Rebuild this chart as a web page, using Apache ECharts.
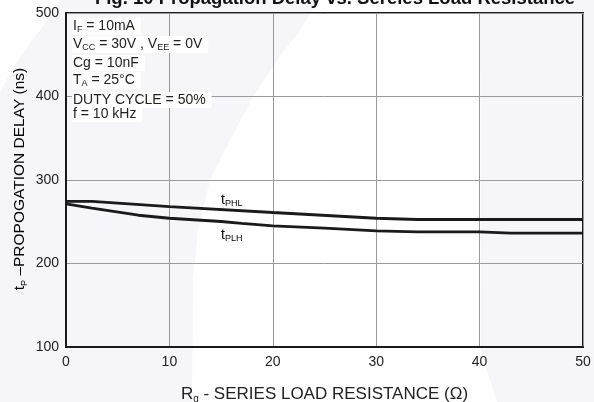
<!DOCTYPE html>
<html>
<head>
<meta charset="utf-8">
<script src="https://cdn.jsdelivr.net/npm/echarts@6/dist/echarts.min.js"></script>
<style>html,body{margin:0;padding:0;background:#fff}#c{width:594px;height:402px}</style>
</head>
<body>
<div id="c"></div>
<script>
// Data
var resistanceTPHL = [0, 2.5, 10, 20, 30, 34, 50];
var delayTPHL      = [274.5, 274.5, 268.2, 261.1, 254.2, 252.7, 252.7];
var resistanceTPLH = [0, 2.5, 7, 10, 15, 17, 20, 25, 30, 34, 40, 43, 50];
var delayTPLH      = [271.3, 266.2, 257.8, 254.2, 250.3, 248, 245, 242.3, 239.1, 237.9, 237.9, 236.3, 236.3];
var xTicks = [0, 10, 20, 30, 40, 50];
var yTicks = [100, 200, 300, 400, 500];

function pairs(xs, ys) { return xs.map(function (x, i) { return [x, ys[i]]; }); }

var FONT = '"Liberation Sans", Arial, Helvetica, sans-serif';
var chart = echarts.init(document.getElementById('c'), null, {renderer: 'canvas'});

var sub = {fontSize: 9, verticalAlign: 'bottom', padding: [6, 0, 0, 0], fontFamily: FONT, color: '#222'};
var nrm = {fontSize: 14, fontFamily: FONT, color: '#222'};

function note(y, text) {
  return {
    type: 'text', left: 72, top: y, z: 10,
    style: {
      text: text, font: '14px ' + FONT, fill: '#222',
      backgroundColor: '#fff', padding: [1, 6, 1, 1],
      rich: {n: nrm, s: sub}
    }
  };
}
var curveLabelRich = {n: {fontSize: 14, fontFamily: FONT, color: '#222'}, s: {fontSize: 9, fontFamily: FONT, color: '#222', verticalAlign: 'bottom', padding: [7, 0, 0, 0]}};

var option = {
  backgroundColor: '#f6f5f9',
  animation: false,
  grid: {left: 66, right: 11, top: 13, bottom: 55, containLabel: false, outerBoundsMode: 'none',
         show: true, borderColor: '#1a1a1a', borderWidth: 2, backgroundColor: 'transparent'},
  xAxis: {
    type: 'value', min: xTicks[0], max: xTicks[xTicks.length - 1], interval: 10,
    axisLine: {show: true, lineStyle: {color: '#1a1a1a', width: 2}},
    axisTick: {show: false},
    axisLabel: {color: '#222', fontSize: 14, fontFamily: FONT, margin: 8},
    splitLine: {show: true, lineStyle: {color: '#9a9a9a', width: 1}},
    name: '{n|R}{s|g}{n| - SERIES LOAD RESISTANCE (Ω)}',
    nameLocation: 'middle', nameGap: 38,
    nameTextStyle: {rich: {n: {fontSize: 17, fontFamily: FONT, color: '#222'}, s: {fontSize: 10, fontFamily: FONT, color: '#222', verticalAlign: 'bottom', padding: [9, 0, 0, 0]}}}
  },
  yAxis: {
    type: 'value', min: yTicks[0], max: yTicks[yTicks.length - 1], interval: 100,
    axisLine: {show: true, lineStyle: {color: '#1a1a1a', width: 2}},
    axisTick: {show: false},
    axisLabel: {color: '#222', fontSize: 14, fontFamily: FONT, margin: 7},
    splitLine: {show: true, lineStyle: {color: '#9a9a9a', width: 1}}
  },
  graphic: [
    {
      type: 'polygon', z: -1, silent: true,
      shape: {points: [[318, 0], [300, 30], [277, 60], [253, 97], [230, 140], [210, 180], [198, 230], [193, 280], [192, 402],
                       [497, 402], [490, 380], [481, 350], [480, 0]]},
      style: {fill: '#ffffff'}
    },
    {
      type: 'polygon', z: -1, silent: true,
      shape: {points: [[0, 0], [62, 0], [40, 30], [18, 60], [0, 92]]},
      style: {fill: '#ffffff'}
    },
    {
      type: 'text', x: 335, y: -1, z: 10,
      style: {text: 'Fig. 10 Propagation Delay vs. Sereies Load Resistance', font: 'bold 18.5px ' + FONT, fill: '#111', textAlign: 'center', textVerticalAlign: 'middle'}
    },
    {
      type: 'text', x: 20, y: 179, rotation: Math.PI / 2, z: 10,
      style: {
        text: '{n|t}{s|P}{n| –PROPOGATION DELAY (ns)}',
        textAlign: 'center', textVerticalAlign: 'middle',
        rich: {n: {fontSize: 15.5, fontFamily: FONT, color: '#222'}, s: {fontSize: 9, fontFamily: FONT, color: '#222', verticalAlign: 'bottom', padding: [9, 0, 0, 0]}}
      }
    },
    note(18, '{n|I}{s|F}{n| = 10mA}'),
    note(36, '{n|V}{s|CC}{n| = 30V , V}{s|EE}{n| = 0V}'),
    note(55, '{n|Cg = 10nF}'),
    note(72, '{n|T}{s|A}{n| = 25°C}'),
    note(92, '{n|DUTY CYCLE = 50%}'),
    note(106, '{n|f = 10 kHz}'),
    {
      type: 'text', left: 221, top: 193, z: 10,
      style: {text: '{n|t}{s|PHL}', rich: curveLabelRich}
    },
    {
      type: 'text', left: 221, top: 228, z: 10,
      style: {text: '{n|t}{s|PLH}', rich: curveLabelRich}
    }
  ],
  series: [
    {type: 'line', name: 'tPHL', data: pairs(resistanceTPHL, delayTPHL), symbol: 'none', smooth: false,
     lineStyle: {color: '#1a1a1a', width: 2.8}, z: 5},
    {type: 'line', name: 'tPLH', data: pairs(resistanceTPLH, delayTPLH), symbol: 'none', smooth: false,
     lineStyle: {color: '#1a1a1a', width: 2.8}, z: 5}
  ]
};
chart.setOption(option);
</script>
</body>
</html>
